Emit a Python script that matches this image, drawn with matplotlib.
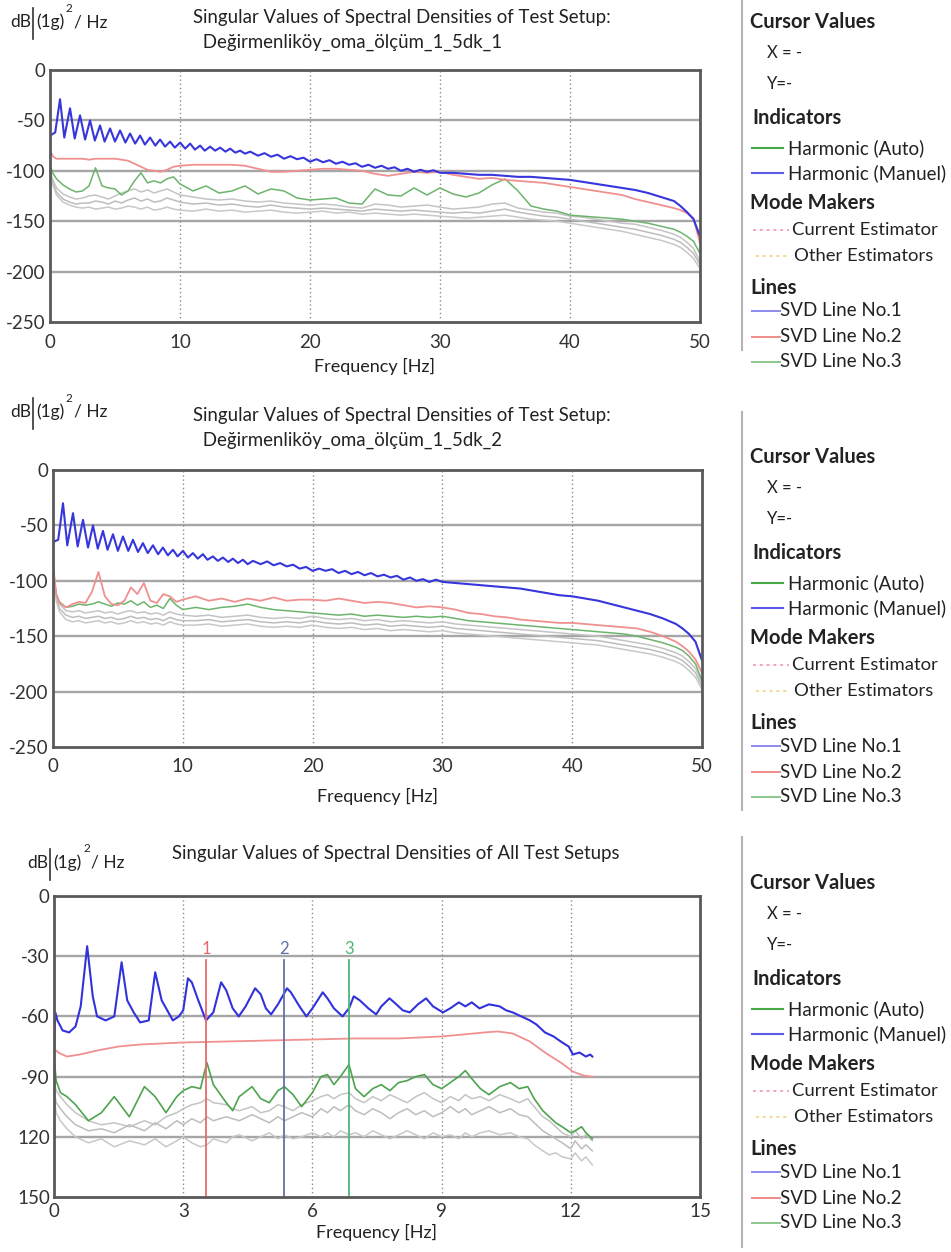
import matplotlib.pyplot as plt
from matplotlib.lines import Line2D

# ---------------- data ----------------
# shared frequency grid (Hz) for SVD lines 2..6 of the two single-setup panels
f_coarse = [0, 0.25, 0.5, 1, 1.5, 2, 2.5, 3, 3.5, 4, 4.5, 5, 5.5, 6, 6.5, 7, 7.5, 8, 8.5, 9, 9.5, 10,
            11, 12, 13, 14, 15, 16, 17, 18, 19, 20, 21, 22, 23, 24, 25, 26, 27, 28, 29, 30,
            31, 32, 33, 34, 35, 36, 37, 38, 39, 40, 41, 42, 43, 44, 45, 46, 47, 48,
            48.5, 49, 49.5, 50]

# SVD line 1 grid (harmonic peaks every ~0.77 Hz)
f_blue = [0, 0.4, 0.77, 1.1, 1.54, 1.9, 2.31, 2.7, 3.08, 3.45, 3.85, 4.2, 4.62, 5.0, 5.39, 5.8,
          6.16, 6.55, 6.93, 7.3, 7.7, 8.1, 8.47, 8.85, 9.24, 9.6, 10.01, 10.4, 10.78, 11.15,
          11.55, 11.9, 12.32, 12.7, 13.09, 13.5, 13.86, 14.25, 14.63, 15.0, 15.4,
          16, 16.5, 17, 17.5, 18, 18.5, 19, 19.5, 20, 20.5, 21, 21.5, 22, 22.5, 23, 23.5,
          24, 24.5, 25, 25.5, 26, 26.5, 27, 27.5, 28, 28.5, 29, 29.5, 30,
          31, 32, 33, 34, 35, 36, 37, 38, 39, 40, 41, 42, 43, 44, 45, 46, 47, 48,
          48.5, 49, 49.5, 50]

# setup 1
svd1_s1 = [-65, -62, -29, -67, -38, -68, -45, -69, -50, -70, -55, -71, -58, -71, -60, -72,
           -63, -73, -65, -74, -67, -75, -69, -76, -71, -77, -72, -78, -73, -79,
           -75, -80, -76, -80, -77, -81, -78, -82, -80, -83, -81,
           -85, -82.5, -86, -84, -88, -85.5, -88.5, -87, -91, -88.5, -91.5, -89.5, -93, -91,
           -94, -92.5, -96, -94, -97, -95, -98, -96.5, -100, -98, -101, -99, -101, -99.5, -102,
           -102, -103, -104, -104, -105, -106, -106, -107, -108, -109, -111, -113, -115,
           -117, -119, -122, -126, -130,
           -135, -141, -148, -165]
svd2_s1 = [-80, -86, -88, -88, -88, -88, -88, -89, -88, -88, -88, -88, -89, -90, -93, -96, -99,
           -100, -101, -99, -96, -95,
           -94, -94, -94, -94, -95, -98, -101, -101, -100, -99,
           -98, -98, -99, -100, -103, -105, -103, -101, -102, -101,
           -104, -106, -108, -107, -109, -110, -111, -112, -114, -116,
           -118, -120, -122, -124, -128, -131, -134, -137,
           -139, -142, -147, -172]
svd3_s1 = [-95, -103, -108, -114, -118, -121, -120, -115, -97, -115, -117, -118, -124, -120,
           -110, -102, -112, -110, -112, -108, -106, -113,
           -120, -115, -122, -120, -115, -123, -118, -120, -127, -129,
           -128, -127, -132, -133, -118, -124, -125, -117, -124, -117,
           -123, -126, -122, -114, -108, -120, -135, -138, -140, -144,
           -145, -146, -147, -148, -150, -152, -155, -158,
           -161, -165, -170, -182]
svd4_s1 = [-100, -110, -117, -123, -126, -128, -127, -125, -124, -126, -128, -125, -122, -120,
           -118, -121, -119, -122, -120, -118, -121, -124,
           -126, -128, -129, -128, -130, -131, -130, -132, -133, -134,
           -133, -134, -136, -137, -133, -134, -136, -135, -134, -136,
           -138, -137, -136, -133, -132, -137, -139, -141, -142, -145,
           -146, -148, -150, -152, -153, -156, -159, -163,
           -166, -171, -177, -190]
svd5_s1 = [-102, -113, -121, -128, -131, -133, -132, -132, -130, -131, -133, -130, -132, -129,
           -127, -130, -128, -131, -130, -127, -129, -131,
           -133, -132, -134, -133, -135, -136, -134, -136, -137, -138,
           -137, -138, -139, -140, -138, -139, -140, -139, -140, -141,
           -142, -141, -142, -140, -138, -141, -143, -145, -146, -148,
           -150, -152, -154, -156, -158, -161, -164, -168,
           -171, -176, -182, -193]
svd6_s1 = [-104, -115, -124, -131, -134, -136, -137, -136, -138, -137, -136, -138, -137, -135,
           -136, -138, -136, -139, -138, -136, -138, -139,
           -140, -138, -140, -139, -141, -140, -139, -141, -142, -141,
           -140, -142, -141, -143, -142, -143, -144, -143, -144, -145,
           -146, -147, -146, -145, -144, -146, -148, -149, -150, -152,
           -154, -156, -158, -160, -163, -166, -169, -173,
           -176, -181, -187, -197]

# setup 2
svd1_s2 = [-65, -63, -30, -68, -39, -69, -45, -70, -50, -71, -55, -72, -58, -73, -60, -73,
           -63, -74, -66, -75, -68, -76, -70, -77, -72, -78, -73, -79, -75, -80,
           -76, -81, -78, -82, -79, -83, -80, -84, -81, -85, -82,
           -85, -82.5, -86, -84, -87, -85.5, -89, -87.5, -91, -89, -91, -89.5, -93, -91,
           -94, -92, -95, -93, -96, -94.5, -97, -95.5, -99, -97, -100, -98.5, -101, -99, -101,
           -102, -103, -104, -105, -106, -107, -109, -111, -113, -114, -116, -118, -121,
           -124, -127, -130, -134, -139,
           -143, -148, -155, -172]
svd2_s2 = [-85, -112, -120, -124, -121, -119, -120, -110, -92, -114, -121, -122, -118, -106,
           -112, -102, -118, -120, -112, -114, -119, -117,
           -114, -118, -116, -119, -116, -118, -115, -118, -117, -117,
           -118, -116, -118, -120, -119, -120, -122, -124, -123, -124,
           -126, -129, -130, -132, -133, -135, -136, -137, -138, -138,
           -139, -140, -141, -142, -143, -146, -150, -155,
           -159, -164, -171, -183]
svd3_s2 = [-90, -112, -119, -124, -123, -121, -122, -121, -119, -121, -123, -120, -121, -118,
           -122, -119, -124, -122, -125, -116, -122, -126,
           -124, -126, -124, -123, -121, -124, -126, -127, -128, -129,
           -130, -131, -130, -132, -131, -132, -133, -132, -133, -132,
           -134, -136, -137, -138, -139, -140, -141, -142, -143, -144,
           -145, -146, -147, -148, -150, -153, -156, -160,
           -163, -168, -175, -190]
svd4_s2 = [-88, -113, -121, -127, -128, -127, -129, -128, -127, -129, -128, -130, -128, -127,
           -129, -128, -130, -129, -131, -128, -130, -131,
           -132, -131, -133, -132, -131, -133, -134, -133, -134, -132,
           -134, -135, -134, -136, -135, -137, -136, -137, -138, -137,
           -139, -140, -141, -142, -143, -144, -145, -146, -147, -148,
           -149, -150, -152, -154, -156, -158, -161, -165,
           -168, -173, -179, -192]
svd5_s2 = [-90, -116, -125, -131, -133, -132, -134, -133, -132, -134, -133, -135, -134, -132,
           -134, -133, -135, -134, -136, -133, -135, -136,
           -136, -135, -137, -136, -135, -137, -138, -137, -138, -136,
           -138, -139, -138, -140, -139, -141, -140, -141, -142, -141,
           -143, -144, -145, -146, -147, -148, -149, -150, -151, -152,
           -153, -154, -156, -158, -160, -162, -165, -169,
           -172, -177, -183, -195]
svd6_s2 = [-92, -118, -128, -135, -137, -136, -138, -137, -136, -138, -137, -139, -138, -136,
           -138, -137, -139, -138, -140, -137, -139, -140,
           -140, -139, -141, -140, -139, -141, -142, -141, -142, -140,
           -142, -143, -142, -144, -143, -145, -144, -145, -146, -145,
           -147, -148, -149, -150, -151, -152, -153, -154, -155, -156,
           -157, -158, -160, -162, -164, -166, -169, -173,
           -176, -181, -187, -198]

# all setups (0 - 12.5 Hz)
f_all_blue = [0, 0.03, 0.08, 0.2, 0.35, 0.5, 0.62, 0.77, 0.9, 1.0, 1.2, 1.4, 1.57, 1.7, 1.85,
              2.0, 2.2, 2.35, 2.5, 2.76, 2.9, 3.0, 3.11, 3.2, 3.35, 3.53, 3.7, 3.88, 4.0,
              4.15, 4.29, 4.45, 4.67, 4.8, 4.92, 5.04, 5.2, 5.41, 5.5, 5.7, 5.86, 6.0, 6.24,
              6.35, 6.5, 6.7, 6.85, 6.96, 7.1, 7.3, 7.48, 7.6, 7.79, 7.95, 8.1, 8.26, 8.45,
              8.64, 8.8, 9.03, 9.2, 9.4, 9.55, 9.7, 9.88, 10.1, 10.35, 10.5, 10.65, 10.85,
              11.05, 11.2, 11.4, 11.6, 11.8, 11.95, 12.05, 12.2, 12.35, 12.45, 12.5]
svd1_all = [-80, -58, -62, -67, -68, -65, -55, -25, -50, -60, -62, -60, -33, -52, -58,
            -63, -62, -38, -52, -62, -60, -57, -41, -43, -52, -62, -58, -43, -47,
            -56, -60, -55, -46, -49, -56, -59, -54, -46, -48, -55, -60, -56, -48,
            -51, -56, -60, -56, -50, -52, -56, -59, -55, -51, -54, -57, -58, -54,
            -51, -55, -58, -56, -53, -55, -53, -56, -54, -55, -57, -58, -60,
            -62, -64, -68, -70, -73, -75, -79, -78, -80, -79, -80]

f_all_red = [0, 0.1, 0.3, 0.6, 1.0, 1.5, 2.0, 3.0, 4.0, 5.0, 6.0, 7.0, 8.0, 9.0, 9.5, 10.0,
             10.3, 10.65, 11.05, 11.4, 11.8, 12.05, 12.3, 12.5]
svd2_all = [-76, -78, -80, -79, -77, -75, -74, -73, -72.5, -72, -71.5, -71, -71, -70, -69, -68,
            -67.5, -68.5, -72.5, -78, -83.5, -87.5, -89.5, -90]

f_all = [0, 0.05, 0.15, 0.3, 0.5, 0.8, 1.1, 1.4, 1.75, 2.1, 2.35, 2.6, 2.85, 3.0, 3.2,
         3.4, 3.55, 3.7, 4.0, 4.15, 4.3, 4.6, 4.8, 5.0, 5.2, 5.35, 5.55, 5.75, 6.0, 6.2,
         6.35, 6.5, 6.65, 6.85, 7.0, 7.2, 7.4, 7.6, 7.8, 8.0, 8.2, 8.4, 8.6, 8.8, 9.0,
         9.2, 9.4, 9.55, 9.7, 9.9, 10.1, 10.35, 10.6, 10.8, 11.0, 11.15, 11.35, 11.5, 11.65, 11.8,
         12.0, 12.1, 12.25, 12.35, 12.5]
svd3_all = [-80, -92, -98, -100, -104, -112, -108, -100, -110, -95, -100, -108, -100, -97, -95,
            -96, -83, -94, -103, -107, -100, -95, -101, -103, -97, -95, -99, -105, -98, -90,
            -89, -94, -90, -84, -96, -100, -96, -94, -97, -93, -92, -90, -89, -94, -96,
            -93, -90, -87, -91, -96, -99, -95, -93, -96, -95, -101, -107, -110, -113, -115,
            -118, -117, -115, -118, -121]
svd4_all = [-92, -97, -100, -104, -108, -112, -114, -113, -115, -112, -114, -110, -108, -106, -104,
            -103, -101, -103, -104, -106, -107, -105, -108, -107, -104, -105, -107, -104, -102, -100,
            -99, -101, -99, -98, -101, -103, -100, -102, -99, -101, -103, -100, -98, -101, -103,
            -100, -102, -99, -101, -100, -102, -99, -101, -103, -101, -105, -110, -112, -115, -118,
            -120, -117, -121, -119, -122]
svd5_all = [-97, -103, -106, -110, -114, -117, -116, -118, -114, -117, -113, -116, -112, -114, -111,
            -113, -110, -112, -110, -111, -112, -109, -111, -113, -110, -112, -110, -108, -110, -106,
            -108, -105, -107, -104, -107, -109, -106, -108, -111, -108, -106, -109, -107, -110, -108,
            -105, -108, -106, -109, -107, -105, -108, -106, -109, -110, -113, -117, -119, -121, -123,
            -126, -122, -126, -124, -127]
svd6_all = [-100, -108, -112, -116, -120, -123, -121, -125, -122, -124, -121, -125, -122, -120, -123,
            -125, -124, -121, -123, -120, -119, -122, -120, -118, -121, -119, -121, -120, -118, -120,
            -118, -120, -117, -119, -118, -120, -117, -119, -121, -119, -117, -119, -121, -118, -120,
            -119, -121, -118, -120, -118, -117, -119, -118, -120, -121, -124, -127, -129, -128, -130,
            -131, -128, -132, -130, -134]

# selected modes (cursor lines) in the all-setups panel
mode_freqs = [3.54, 5.33, 6.86]
mode_labels = ['1', '2', '3']
mode_colors = ['#e86a6a', '#6470a8', '#4cb878']

xticks_50 = [0, 10, 20, 30, 40, 50]
yticks_250 = [0, -50, -100, -150, -200, -250]
xticks_15 = [0, 3, 6, 9, 12, 15]
yticks_150 = [0, -30, -60, -90, -120, -150]
ylabels_150 = ['0', '-30', '-60', '-90', '120', '150']

title_main = 'Singular Values of Spectral Densities of Test Setup:'
setup_names = [' Değirmenliköy_oma_ölçüm_1_5dk_1', ' Değirmenliköy_oma_ölçüm_1_5dk_2']
title_all = 'Singular Values of Spectral Densities of All Test Setups'

# ---------------- drawing ----------------
W, H = 951, 1252
plt.rcParams['font.family'] = ['Lato', 'DejaVu Sans']
plt.rcParams['axes.unicode_minus'] = False
fig = plt.figure(figsize=(W / 100, H / 100), dpi=100)
TXT = '#222222'


def add_ax(left, top, right, bottom):
    return fig.add_axes([left / W, 1 - bottom / H, (right - left) / W, (bottom - top) / H])


def ftext(x, y, s, **kw):
    kw.setdefault('color', TXT)
    kw.setdefault('va', 'center')
    fig.text(x / W, 1 - y / H, s, **kw)


def fline(x0, x1, y0, y1, **kw):
    fig.add_artist(Line2D([x0 / W, x1 / W], [1 - y0 / H, 1 - y1 / H],
                          transform=fig.transFigure, **kw))


def style(ax, xticks, yticks, ylabels=None, xpad=3, lpad=1):
    ax.set_xlim(xticks[0], xticks[-1])
    ax.set_ylim(yticks[-1], yticks[0])
    ax.set_xticks(xticks)
    ax.set_yticks(yticks)
    if ylabels:
        ax.set_yticklabels(ylabels)
    ax.tick_params(length=0, labelsize=13.5, labelcolor='#333333', pad=3)
    ax.tick_params(axis='x', pad=xpad)
    for v in yticks[1:-1]:
        ax.axhline(v, color='#a6a6a6', lw=1.7, zorder=0)
    for v in xticks[1:-1]:
        ax.axvline(v, color='#8c8c8c', lw=1, ls=(0, (1, 2)), zorder=0)
    for s in ax.spines.values():
        s.set_color('#595959')
        s.set_linewidth(2)
    ax.set_xlabel('Frequency [Hz]', fontsize=13, color=TXT, labelpad=lpad)


def ylabel_unit(x, y):
    ftext(x, y, 'dB', fontsize=12.5)
    fline(x + 23, x + 23, y - 14, y + 17, color='#333333', lw=1.2)
    ftext(x + 26, y, '(1g)', fontsize=12.5)
    ftext(x + 56, y - 14, '2', fontsize=8.5)
    ftext(x + 64, y, '/ Hz', fontsize=12.5)


def legend_panel(y0, div_top, div_bottom):
    fline(742, 742, div_top, div_bottom, color='#b4b4b4', lw=1.5)
    off = [0, 31, 62, 96, 126, 151, 181, 208, 234, 266, 289, 315, 340]
    ftext(750, y0 + off[0], 'Cursor Values', fontsize=14.5, fontweight='bold')
    ftext(767, y0 + off[1], 'X = -', fontsize=12)
    ftext(767, y0 + off[2], 'Y=-', fontsize=12)
    ftext(752, y0 + off[3], 'Indicators', fontsize=14.5, fontweight='bold')
    fline(752, 783, y0 + off[4], y0 + off[4], color='#48a848', lw=1.5)
    ftext(788, y0 + off[4], 'Harmonic (Auto)', fontsize=13.5)
    fline(752, 783, y0 + off[5], y0 + off[5], color='#5c5ce8', lw=1.5)
    ftext(788, y0 + off[5], 'Harmonic (Manuel)', fontsize=13.5)
    ftext(750, y0 + off[6], 'Mode Makers', fontsize=14.5, fontweight='bold')
    fline(753, 789, y0 + off[7], y0 + off[7], color='#f4a4b8', lw=1.4, ls=(0, (1.5, 2)))
    ftext(792, y0 + off[7], 'Current Estimator', fontsize=13.3)
    fline(756, 790, y0 + off[8], y0 + off[8], color='#f0d890', lw=1.4, ls=(0, (1.5, 2)))
    ftext(794, y0 + off[8], 'Other Estimators', fontsize=13.3)
    ftext(750, y0 + off[9], 'Lines', fontsize=14.5, fontweight='bold')
    for k, c in zip(range(3), ['#8a8aee', '#f08a8a', '#8cc88c']):
        fline(752, 780, y0 + off[10 + k], y0 + off[10 + k], color=c, lw=1.4)
        ftext(780, y0 + off[10 + k], 'SVD Line No.%d' % (k + 1), fontsize=13.5)


grays = ['#c4c4c4', '#bdbdbd', '#c8c8c8']

# panel 1 and 2
panels = [
    (add_ax(50, 70, 700, 322), svd1_s1, [svd2_s1, svd3_s1, svd4_s1, svd5_s1, svd6_s1], 9, 5),
    (add_ax(53, 470, 702, 747), svd1_s2, [svd2_s2, svd3_s2, svd4_s2, svd5_s2, svd6_s2], 8, 9),
]
for ax, blue, rest, xpad, lpad in panels:
    for g, c in zip(rest[2:], grays):
        ax.plot(f_coarse, g, color=c, lw=1.1)
    ax.plot(f_coarse, rest[1], color='#6cb46c', lw=1.1)
    ax.plot(f_coarse, rest[0], color='#f09090', lw=1.3)
    ax.plot(f_blue, blue, color='#3636dc', lw=1.5)
    style(ax, xticks_50, yticks_250, xpad=xpad, lpad=lpad)

ylabel_unit(10, 22)
ftext(193, 17, title_main, fontsize=13.4)
ftext(198, 42, setup_names[0], fontsize=13.4)
legend_panel(22, 0, 350)

ylabel_unit(10, 412)
ftext(193, 415, title_main, fontsize=13.4)
ftext(198, 440, setup_names[1], fontsize=13.4)
legend_panel(457, 412, 810)

# panel 3
ax3 = add_ax(54, 896, 700, 1197)
for g, c in zip([svd4_all, svd5_all, svd6_all], grays):
    ax3.plot(f_all, g, color=c, lw=1.1)
ax3.plot(f_all, svd3_all, color='#4ea44e', lw=1.2)
ax3.plot(f_all_red, svd2_all, color='#f09090', lw=1.3)
ax3.plot(f_all_blue, svd1_all, color='#3232dc', lw=1.5)
for fm, lab, c in zip(mode_freqs, mode_labels, mode_colors):
    ax3.plot([fm, fm], [-32, -150], color=c, lw=1.3)
    ax3.text(fm, -26.5, lab, color=c, fontsize=12, ha='center', va='center')
style(ax3, xticks_15, yticks_150, ylabels_150, xpad=4, lpad=3)

ylabel_unit(27, 863)
ftext(172, 853, title_all, fontsize=13.4)
legend_panel(883, 837, 1247)

fig.savefig('out.png', dpi=100)
